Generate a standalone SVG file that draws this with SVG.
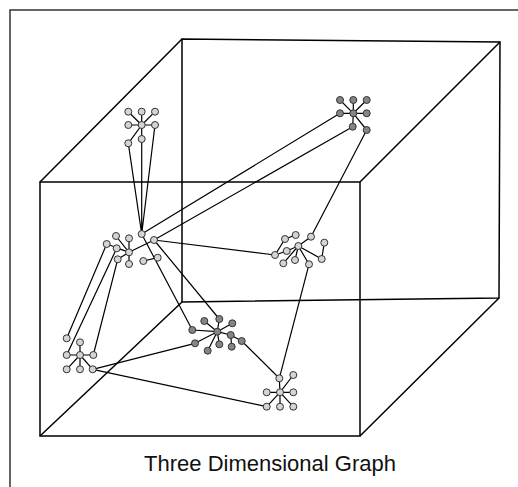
<svg xmlns="http://www.w3.org/2000/svg" width="518" height="487" viewBox="0 0 518 487">
<style>
.frame{fill:none;stroke:#333;stroke-width:1.5}
.cube{fill:none;stroke:#000;stroke-width:1.5}
.e{stroke:#000;stroke-width:1.2;fill:none}
.n{fill:#d4d4d4;stroke:#333;stroke-width:1}
.d .n{fill:#858585}
.cap{font-family:"Liberation Sans",Arial,sans-serif;font-size:22px;fill:#111}
</style>
<rect width="518" height="487" fill="#fff"/>
<rect class="frame" x="10" y="10" width="530" height="500"/>
<g id="cube">
<path class="cube" d="M182,39 L500,42 L499,298 L182,302 Z"/>
<path class="cube" d="M40,182 L360,182 L360,436 L40,436 Z"/>
<path class="cube" d="M40,182 L182,39 M360,182 L500,42 M360,436 L499,298 M40,436 L182,302"/>
</g>
<g id="connectors">
<path class="e" d="M141.7,125 L128.3,111.7 M141.7,125 L141.7,111.7 M141.7,125 L155,111.7 M141.7,125 L128.3,125 M141.7,125 L155,125 M141.7,125 L128.3,143.3 M141.7,125 L141.7,139"/>
<path class="e" d="M128.3,143.3 L141.7,234 M141.7,139 L141.7,234 M155,125 L141.7,234"/>
<path class="e" d="M353.3,113.3 L340,100 M353.3,113.3 L353.3,100 M353.3,113.3 L366.7,100 M353.3,113.3 L340,113.3 M353.3,113.3 L366.7,113.3 M353.3,113.3 L352.7,126.7 M353.3,113.3 L366.7,130"/>
<path class="e" d="M141.7,234 L340,113.3 M154,240 L352.7,126.7 M366.7,130 L311,236.7 M154,240 L275,255"/>
<path class="e" d="M141.7,234 L192.3,330 M154,240 L219.3,319"/>
<path class="e" d="M129,252.3 L116,236 M129,252.3 L129,238.3 M129,252.3 L106.7,244 M129,252.3 L116.7,248.3 M129,252.3 L117.7,259.3 M129,252.3 L129,264 M129,252.3 L154,240 M143.3,261 L157.7,257.7"/>
<path class="e" d="M106.7,244 L66.7,338.3 M116.7,248.3 L66.7,355 M117.7,259.3 L93.3,355"/>
<path class="e" d="M80,355 L66.7,355 M80,355 L93.3,355 M80,355 L80,342.3 M80,355 L66.7,369.3 M80,355 L80,369.3 M80,355 L92.7,369.3"/>
<path class="e" d="M92.7,369.3 L195,343.3 M92.7,369.3 L266.7,406.7"/>
<path class="e" d="M298.3,246 L311,236.7 M298.3,246 L286.7,251 L275,255 L285,239 L295.7,235 M298.3,246 L283.3,263.3 M298.3,246 L295,260 M298.3,246 L309,264.3 M298.3,246 L321.7,259 L324.3,242.7"/>
<path class="e" d="M309,264.3 L279.3,378.3"/>
<path class="e" d="M217.3,331.7 L219.3,319 M217.3,331.7 L204.3,321 M217.3,331.7 L232.3,323.3 M217.3,331.7 L192.3,330 M217.3,331.7 L195,343.3 M217.3,331.7 L219.3,344.3 M217.3,331.7 L207.7,350.7 M217.3,331.7 L230.7,335 L241.7,341 M230.7,335 L231.7,346.7"/>
<path class="e" d="M241.7,341 L279.3,378.3"/>
<path class="e" d="M280,392.3 L279.3,378.3 M280,392.3 L293.3,375 M280,392.3 L266.7,392.3 M280,392.3 L293.3,392.3 M280,392.3 L266.7,406.7 M280,392.3 L280,406.7 M280,392.3 L293.3,406.7"/>
</g>
<g id="cluster-top">
<circle class="n" cx="128.3" cy="111.7" r="3.5"/><circle class="n" cx="141.7" cy="111.7" r="3.5"/><circle class="n" cx="155" cy="111.7" r="3.5"/>
<circle class="n" cx="128.3" cy="125" r="3.5"/><circle class="n" cx="141.7" cy="125" r="3.5"/><circle class="n" cx="155" cy="125" r="3.5"/>
<circle class="n" cx="128.3" cy="143.3" r="3.5"/><circle class="n" cx="141.7" cy="139" r="3.5"/>
</g>
<g id="cluster-topright" class="d">
<circle class="n" cx="340" cy="100" r="3.5"/><circle class="n" cx="353.3" cy="100" r="3.5"/><circle class="n" cx="366.7" cy="100" r="3.5"/>
<circle class="n" cx="340" cy="113.3" r="3.5"/><circle class="n" cx="353.3" cy="113.3" r="3.5"/><circle class="n" cx="366.7" cy="113.3" r="3.5"/>
<circle class="n" cx="352.7" cy="126.7" r="3.5"/><circle class="n" cx="366.7" cy="130" r="3.5"/>
</g>
<g id="cluster-leftmid">
<circle class="n" cx="141.7" cy="234" r="3.5"/><circle class="n" cx="154" cy="240" r="3.5"/>
<circle class="n" cx="116" cy="236" r="3.5"/><circle class="n" cx="129" cy="238.3" r="3.5"/>
<circle class="n" cx="106.7" cy="244" r="3.5"/><circle class="n" cx="116.7" cy="248.3" r="3.5"/>
<circle class="n" cx="129" cy="252.3" r="3.5"/><circle class="n" cx="117.7" cy="259.3" r="3.5"/>
<circle class="n" cx="129" cy="264" r="3.5"/><circle class="n" cx="143.3" cy="261" r="3.5"/>
<circle class="n" cx="157.7" cy="257.7" r="3.5"/>
</g>
<g id="cluster-rightmid">
<circle class="n" cx="311" cy="236.7" r="3.5"/><circle class="n" cx="295.7" cy="235" r="3.5"/>
<circle class="n" cx="285" cy="239" r="3.5"/><circle class="n" cx="298.3" cy="246" r="3.5"/>
<circle class="n" cx="286.7" cy="251" r="3.5"/><circle class="n" cx="324.3" cy="242.7" r="3.5"/>
<circle class="n" cx="275" cy="255" r="3.5"/><circle class="n" cx="283.3" cy="263.3" r="3.5"/>
<circle class="n" cx="295" cy="260" r="3.5"/><circle class="n" cx="309" cy="264.3" r="3.5"/>
<circle class="n" cx="321.7" cy="259" r="3.5"/>
</g>
<g id="cluster-center" class="d">
<circle class="n" cx="219.3" cy="319" r="3.5"/><circle class="n" cx="204.3" cy="321" r="3.5"/>
<circle class="n" cx="232.3" cy="323.3" r="3.5"/><circle class="n" cx="217.3" cy="331.7" r="3.5"/>
<circle class="n" cx="192.3" cy="330" r="3.5"/><circle class="n" cx="230.7" cy="335" r="3.5"/>
<circle class="n" cx="241.7" cy="341" r="3.5"/><circle class="n" cx="195" cy="343.3" r="3.5"/>
<circle class="n" cx="219.3" cy="344.3" r="3.5"/><circle class="n" cx="207.7" cy="350.7" r="3.5"/>
<circle class="n" cx="231.7" cy="346.7" r="3.5"/>
</g>
<g id="cluster-bottomleft">
<circle class="n" cx="66.7" cy="338.3" r="3.5"/><circle class="n" cx="80" cy="342.3" r="3.5"/>
<circle class="n" cx="66.7" cy="355" r="3.5"/><circle class="n" cx="80" cy="355" r="3.5"/><circle class="n" cx="93.3" cy="355" r="3.5"/>
<circle class="n" cx="66.7" cy="369.3" r="3.5"/><circle class="n" cx="80" cy="369.3" r="3.5"/><circle class="n" cx="92.7" cy="369.3" r="3.5"/>
</g>
<g id="cluster-bottomright">
<circle class="n" cx="279.3" cy="378.3" r="3.5"/><circle class="n" cx="293.3" cy="375" r="3.5"/>
<circle class="n" cx="266.7" cy="392.3" r="3.5"/><circle class="n" cx="280" cy="392.3" r="3.5"/><circle class="n" cx="293.3" cy="392.3" r="3.5"/>
<circle class="n" cx="266.7" cy="406.7" r="3.5"/><circle class="n" cx="280" cy="406.7" r="3.5"/><circle class="n" cx="293.3" cy="406.7" r="3.5"/>
</g>
<text class="cap" x="270" y="471" text-anchor="middle">Three Dimensional Graph</text>
</svg>
